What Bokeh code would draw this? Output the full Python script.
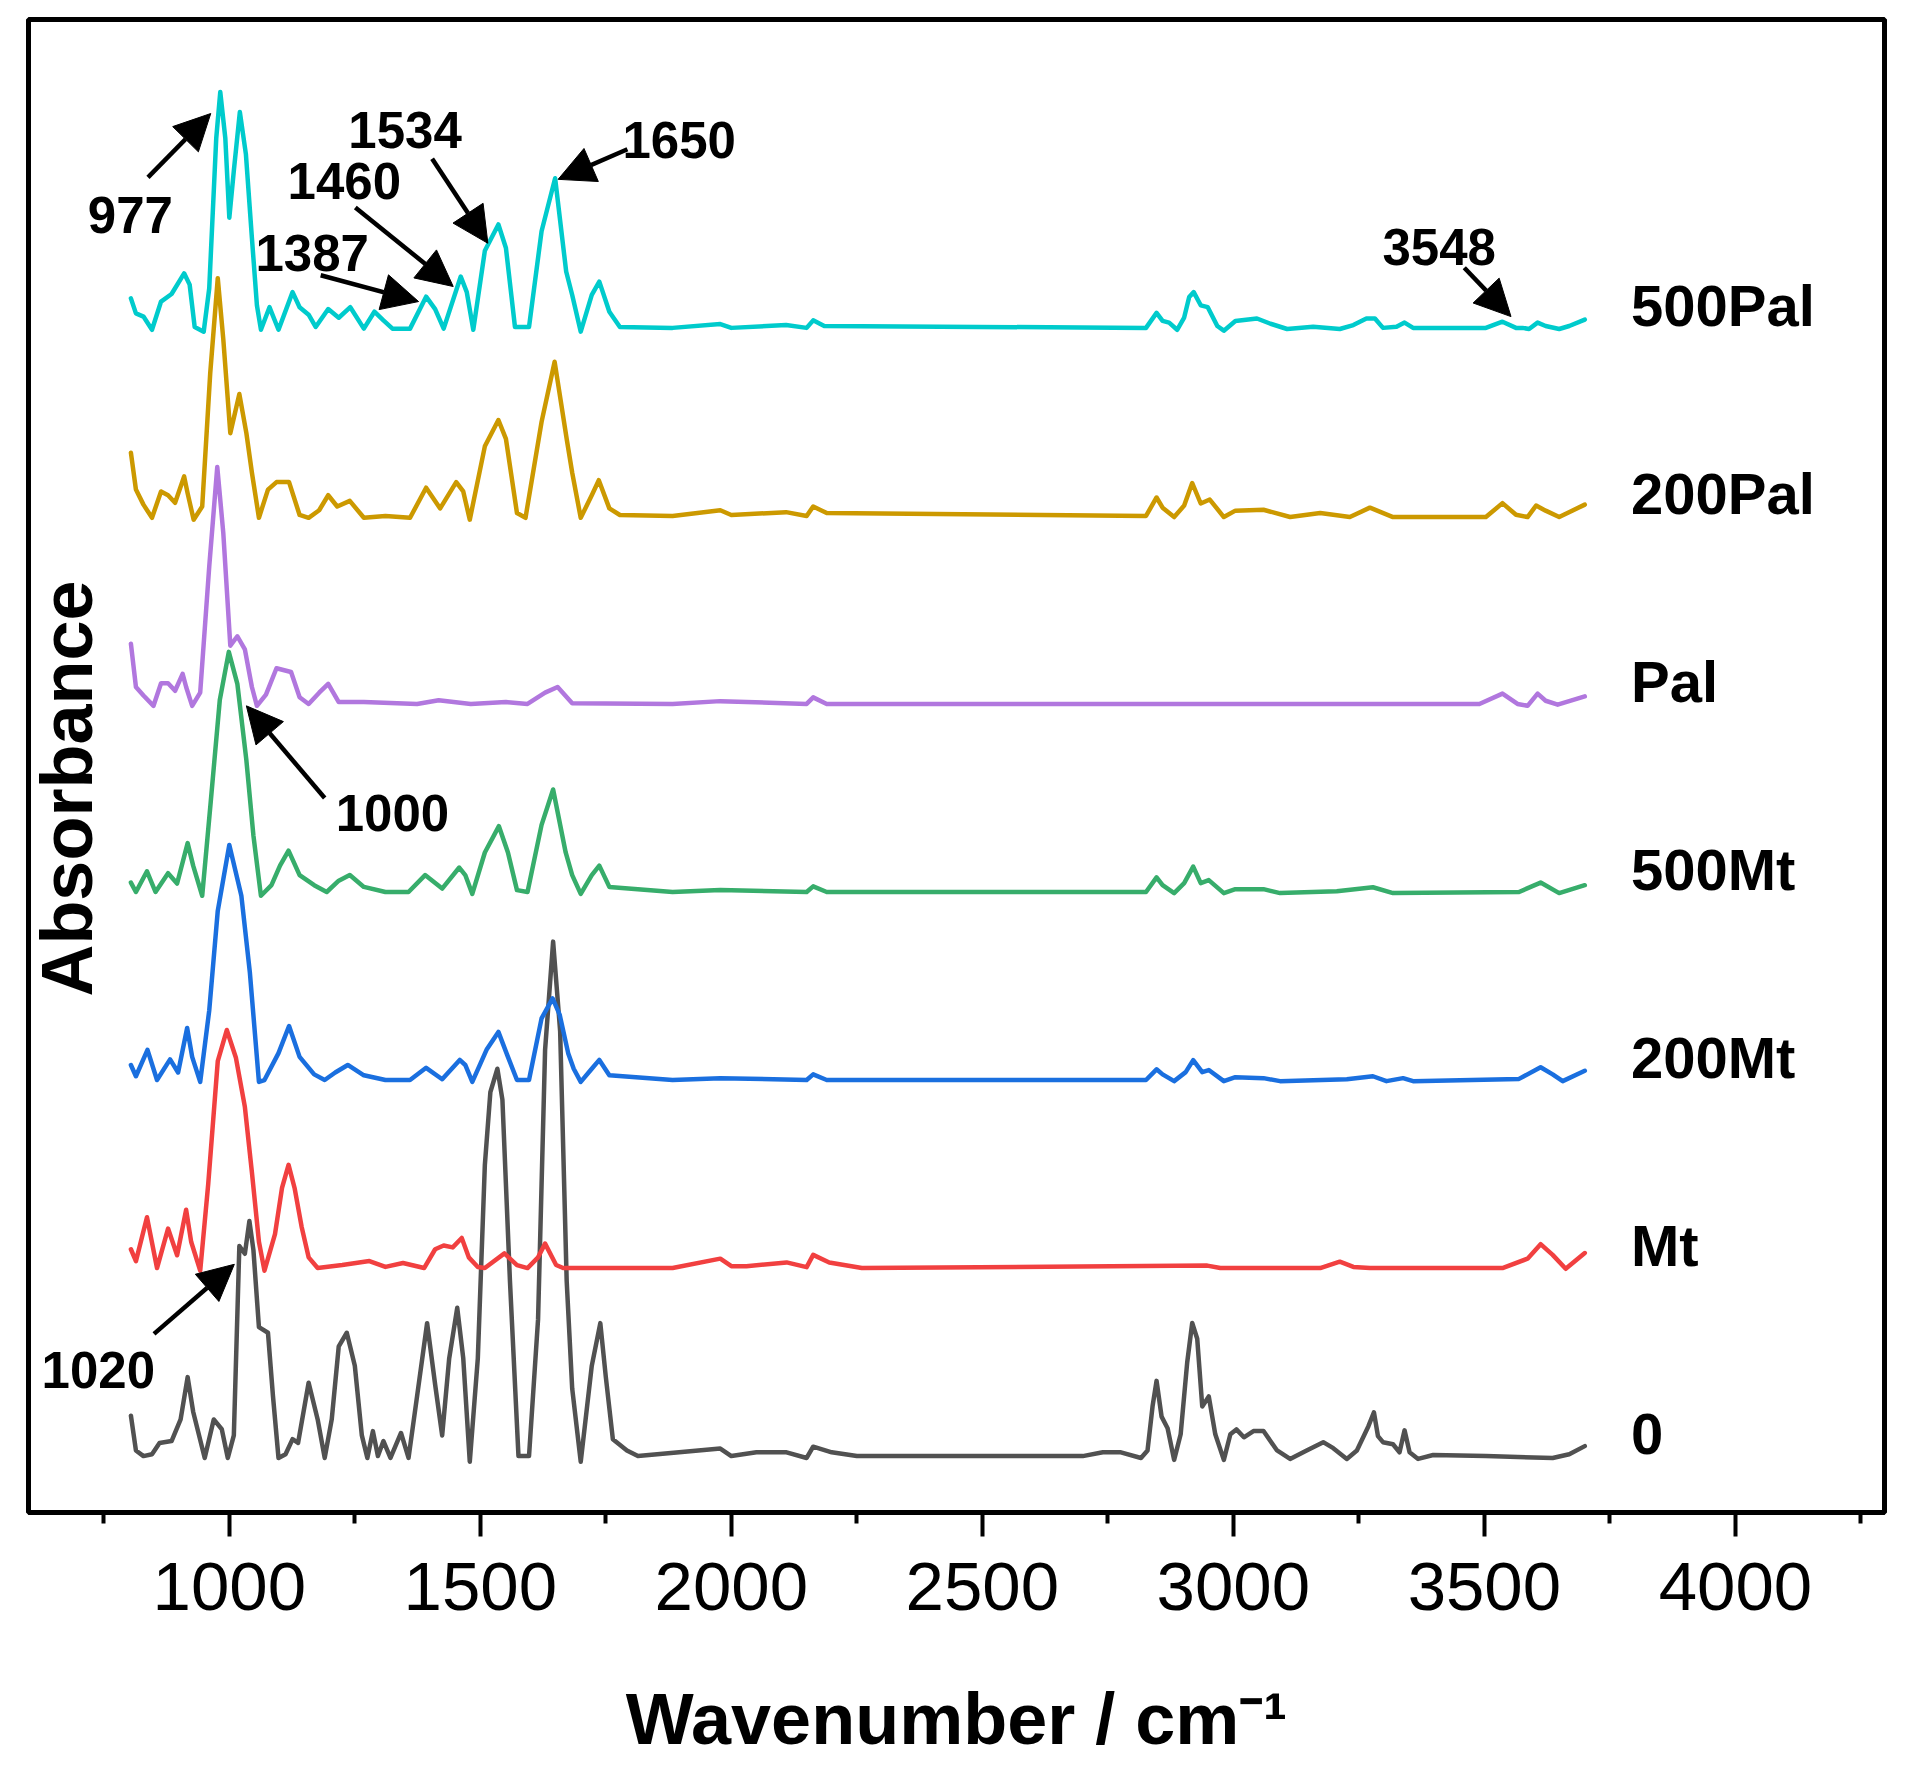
from bokeh.plotting import figure
from bokeh.models import Range1d, FixedTicker, Arrow, NormalHead, Label
from bokeh.core.properties import value
from bokeh.embed import file_html
from bokeh.resources import INLINE
import math

# ---------------- data ----------------
SERIES = ["0", "Mt", "200Mt", "500Mt", "Pal", "200Pal", "500Pal"]
COLORS = ["#515151", "#F14040", "#1A6FDF", "#37AD6B", "#B177DE", "#CC9900", "#00CBCC"]
OFFSETS = [0, 1, 2, 3, 4, 5, 6]

wn_0 = [804, 814, 829, 846, 861, 885, 903, 917, 928, 951, 969, 985, 997, 1009, 1020, 1031, 1040, 1048,
        1059, 1077, 1087, 1098, 1112, 1126, 1137, 1158, 1176, 1190, 1204, 1218, 1234, 1250, 1264, 1275,
        1286, 1296, 1307, 1321, 1342, 1357, 1374, 1394, 1410, 1424, 1438, 1454, 1466, 1479, 1495, 1509,
        1520, 1534, 1544, 1559, 1576, 1597, 1615, 1629, 1645, 1659, 1672, 1683, 1700, 1722, 1739, 1750,
        1764, 1792, 1814, 1978, 2000, 2050, 2110, 2150, 2163, 2200, 2250, 2700, 2740, 2776, 2816, 2829,
        2839, 2847, 2857, 2869, 2882, 2895, 2908, 2918, 2928, 2938, 2951, 2964, 2981, 2994, 3006, 3021,
        3040, 3060, 3087, 3113, 3146, 3179, 3199, 3226, 3246, 3269, 3280, 3288, 3298, 3318, 3331, 3341,
        3351, 3368, 3398, 3503, 3636, 3669, 3700]
ab_0 = [0.215, 0.03, 0.0, 0.01, 0.07, 0.08, 0.195, 0.42, 0.236, -0.01, 0.195, 0.143, -0.01, 0.11, 1.117,
        1.076, 1.25, 1.096, 0.686, 0.656, 0.318, -0.01, 0.01, 0.09, 0.07, 0.39, 0.195, -0.01, 0.195, 0.584,
        0.656, 0.48, 0.11, -0.01, 0.133, 0.0, 0.08, -0.01, 0.123, -0.01, 0.318, 0.707, 0.38, 0.11, 0.52,
        0.789, 0.52, -0.03, 0.52, 1.547, 1.936, 2.06, 1.895, 0.932, 0.0, 0.0, 0.727, 2.16, 2.736, 2.26,
        0.932, 0.359, -0.03, 0.48, 0.707, 0.42, 0.09, 0.03, 0.0, 0.04, 0.0, 0.02, 0.02, -0.01, 0.05, 0.02,
        0.0, 0.0, 0.02, 0.02, -0.01, 0.03, 0.264, 0.40, 0.21, 0.148, -0.02, 0.116, 0.497, 0.708, 0.624,
        0.264, 0.317, 0.116, -0.02, 0.116, 0.142, 0.10, 0.133, 0.133, 0.03, -0.015, 0.03, 0.074, 0.042,
        -0.015, 0.03, 0.159, 0.233, 0.106, 0.074, 0.063, 0.02, 0.137, 0.02, -0.015, 0.006, 0.0, -0.01,
        0.01, 0.053]

wn_mt = [804, 814, 836, 856, 878, 896, 914, 924, 942, 958, 977, 995, 1013, 1031, 1045, 1059, 1070, 1091,
         1105, 1118, 1130, 1144, 1158, 1176, 1225, 1279, 1311, 1346, 1388, 1410, 1427, 1445, 1463, 1477,
         1495, 1509, 1548, 1573, 1594, 1615, 1629, 1651, 1665, 1883, 1978, 2000, 2030, 2110, 2150, 2163,
         2195, 2260, 2948, 2974, 3173, 3212, 3239, 3272, 3536, 3586, 3612, 3636, 3662, 3700]
ab_mt = [0.1, 0.037, 0.27, 0.0, 0.21, 0.068, 0.31, 0.14, -0.014, 0.447, 1.10, 1.266, 1.12, 0.857, 0.51,
         0.14, -0.014, 0.18, 0.426, 0.549, 0.426, 0.22, 0.057, 0.0, 0.016, 0.037, 0.006, 0.027, 0.0, 0.1,
         0.12, 0.11, 0.16, 0.057, 0.006, 0.0, 0.078, 0.016, 0.0, 0.057, 0.13, 0.016, 0.0, 0.0, 0.05, 0.01,
         0.01, 0.03, 0.005, 0.07, 0.03, 0.0, 0.013, 0.0, 0.0, 0.034, 0.006, 0.0, 0.0, 0.05, 0.127, 0.07,
         -0.004, 0.08]

wn_200mt = [804, 814, 837, 856, 882, 898, 916, 926, 942, 960, 977, 1000, 1024, 1041, 1059, 1070, 1098,
            1119, 1140, 1169, 1190, 1211, 1236, 1268, 1311, 1360, 1392, 1424, 1459, 1470, 1484, 1513,
            1536, 1555, 1573, 1597, 1622, 1644, 1658, 1675, 1686, 1700, 1722, 1737, 1757, 1883, 1978,
            2150, 2163, 2190, 2826, 2847, 2859, 2882, 2905, 2920, 2938, 2951, 2981, 3004, 3060, 3093,
            3226, 3278, 3305, 3338, 3358, 3569, 3612, 3636, 3656, 3700]
ab_200mt = [0.08, 0.02, 0.16, 0.0, 0.11, 0.04, 0.277, 0.123, -0.01, 0.37, 0.9, 1.25, 0.98, 0.57, -0.01,
            0.0, 0.143, 0.287, 0.123, 0.03, 0.0, 0.04, 0.08, 0.025, 0.0, 0.0, 0.065, 0.004, 0.107, 0.08,
            -0.01, 0.164, 0.256, 0.123, 0.0, 0.0, 0.328, 0.434, 0.348, 0.143, 0.06, -0.01, 0.06, 0.107,
            0.025, 0.0, 0.01, 0.0, 0.03, 0.0, 0.0, 0.057, 0.03, -0.006, 0.042, 0.106, 0.042, 0.053,
            -0.006, 0.015, 0.01, -0.006, 0.004, 0.02, -0.006, 0.01, -0.006, 0.006, 0.068, 0.03, -0.006,
            0.049]

wn_500mt = [804, 814, 836, 853, 878, 896, 917, 928, 946, 963, 981, 999, 1016, 1034, 1048, 1063, 1084,
            1101, 1118, 1140, 1169, 1194, 1218, 1240, 1268, 1311, 1357, 1390, 1424, 1458, 1470, 1484,
            1509, 1537, 1555, 1573, 1594, 1622, 1645, 1670, 1683, 1700, 1722, 1737, 1757, 1883, 1978,
            2150, 2163, 2190, 2826, 2847, 2859, 2882, 2902, 2920, 2935, 2951, 2981, 3004, 3060, 3093,
            3206, 3278, 3318, 3569, 3612, 3649, 3700]
ab_500mt = [0.05, 0.0, 0.11, 0.0, 0.1, 0.045, 0.26, 0.14, -0.02, 0.48, 1.02, 1.277, 1.107, 0.70, 0.30,
            -0.02, 0.036, 0.14, 0.22, 0.09, 0.036, 0.0, 0.06, 0.09, 0.027, 0.0, 0.0, 0.09, 0.018, 0.13,
            0.09, -0.01, 0.21, 0.35, 0.21, 0.01, 0.0, 0.357, 0.545, 0.21, 0.09, -0.01, 0.09, 0.14, 0.027,
            0.0, 0.01, 0.0, 0.03, 0.0, 0.0, 0.078, 0.036, -0.006, 0.047, 0.135, 0.047, 0.063, -0.006,
            0.015, 0.015, -0.006, 0.004, 0.025, -0.006, 0.0, 0.05, -0.006, 0.036]

wn_pal = [804, 814, 829, 849, 864, 878, 892, 907, 914, 926, 942, 960, 976, 988, 1002, 1016, 1031, 1045,
          1055, 1073, 1094, 1123, 1140, 1158, 1179, 1197, 1218, 1268, 1374, 1417, 1481, 1551, 1594, 1629,
          1654, 1683, 1883, 1978, 2150, 2163, 2190, 3490, 3536, 3566, 3586, 3606, 3622, 3646, 3700]
ab_pal = [0.32, 0.09, 0.045, -0.01, 0.11, 0.11, 0.07, 0.16, 0.09, -0.01, 0.06, 0.73, 1.26, 0.91, 0.31,
          0.36, 0.29, 0.09, -0.01, 0.05, 0.19, 0.17, 0.036, 0.0, 0.06, 0.107, 0.01, 0.01, 0.0, 0.02, 0.0,
          0.01, 0.0, 0.06, 0.09, 0.004, 0.0, 0.015, 0.0, 0.035, 0.0, 0.0, 0.055, 0.0, -0.01, 0.055, 0.017,
          -0.004, 0.04]

wn_200pal = [804, 814, 829, 846, 864, 878, 892, 910, 917, 929, 946, 962, 977, 988, 1002, 1020, 1034,
             1045, 1059, 1077, 1094, 1119, 1140, 1158, 1179, 1197, 1215, 1240, 1268, 1311, 1360, 1392,
             1420, 1452, 1466, 1479, 1509, 1536, 1551, 1573, 1590, 1622, 1648, 1672, 1683, 1700, 1722,
             1736, 1757, 1778, 1883, 1978, 2000, 2109, 2150, 2163, 2190, 2826, 2847, 2859, 2882, 2902,
             2918, 2935, 2953, 2981, 3004, 3060, 3113, 3173, 3232, 3272, 3318, 3503, 3536, 3563, 3586,
             3603, 3622, 3649, 3700]
ab_200pal = [0.336, 0.14, 0.06, -0.01, 0.13, 0.11, 0.07, 0.21, 0.12, -0.02, 0.05, 0.76, 1.264, 0.94,
             0.44, 0.648, 0.44, 0.23, -0.01, 0.14, 0.18, 0.18, 0.005, -0.01, 0.03, 0.11, 0.05, 0.08,
             -0.01, 0.0, -0.01, 0.15, 0.04, 0.18, 0.13, -0.02, 0.37, 0.51, 0.41, 0.015, -0.01, 0.50,
             0.82, 0.41, 0.23, -0.01, 0.11, 0.19, 0.04, 0.005, 0.0, 0.03, 0.005, 0.02, 0.0, 0.05, 0.015,
             0.0, 0.098, 0.044, -0.006, 0.055, 0.175, 0.066, 0.087, -0.006, 0.028, 0.033, -0.006, 0.015,
             -0.006, 0.044, -0.006, -0.006, 0.068, 0.006, -0.006, 0.055, 0.028, -0.006, 0.06]

wn_500pal = [804, 814, 829, 846, 864, 885, 910, 921, 931, 949, 960, 974, 982, 992, 1000, 1009, 1021,
             1033, 1045, 1055, 1063, 1080, 1098, 1126, 1140, 1158, 1172, 1197, 1218, 1241, 1268, 1289,
             1307, 1325, 1360, 1392, 1410, 1427, 1461, 1473, 1486, 1509, 1536, 1551, 1569, 1597, 1622,
             1649, 1671, 1683, 1700, 1722, 1737, 1757, 1778, 1883, 1978, 2000, 2109, 2150, 2163, 2185,
             2826, 2847, 2859, 2872, 2888, 2902, 2912, 2921, 2935, 2949, 2968, 2981, 3004, 3047, 3074,
             3107, 3159, 3212, 3239, 3265, 3282, 3298, 3325, 3341, 3358, 3437, 3503, 3536, 3563, 3576,
             3589, 3606, 3622, 3649, 3669, 3700]
ab_500pal = [0.157, 0.077, 0.06, -0.01, 0.14, 0.18, 0.29, 0.23, 0.005, -0.02, 0.21, 1.01, 1.255, 1.01,
             0.586, 0.836, 1.148, 0.925, 0.479, 0.12, -0.01, 0.11, -0.01, 0.19, 0.11, 0.07, 0.005, 0.1,
             0.054, 0.11, -0.004, 0.086, 0.04, -0.004, -0.004, 0.166, 0.10, -0.004, 0.273, 0.19, -0.01,
             0.41, 0.55, 0.425, 0.005, 0.005, 0.514, 0.796, 0.30, 0.175, -0.02, 0.175, 0.246, 0.086,
             0.005, 0.0, 0.02, 0.0, 0.015, 0.0, 0.04, 0.01, 0.0, 0.08, 0.037, 0.028, -0.01, 0.055, 0.164,
             0.19, 0.12, 0.11, 0.01, -0.015, 0.037, 0.05, 0.022, -0.006, 0.006, -0.006, 0.015, 0.05,
             0.05, 0.0, 0.006, 0.028, 0.0, 0.0, 0.0, 0.033, 0.0, 0.0, -0.006, 0.028, 0.01, -0.006, 0.01,
             0.044]

WN = [wn_0, wn_mt, wn_200mt, wn_500mt, wn_pal, wn_200pal, wn_500pal]
AB = [ab_0, ab_mt, ab_200mt, ab_500mt, ab_pal, ab_200pal, ab_500pal]

# peak annotations: label, text position, arrow tail, arrow head (wavenumber, stacked absorbance)
ANN_TEXT = ["977", "1387", "1460", "1534", "1650", "3548", "1000", "1020"]
ANN_TX = [803, 1165, 1229, 1350, 1896, 3410, 1325, 739]
ANN_TY = [6.60, 6.40, 6.78, 7.05, 7.00, 6.43, 3.42, 0.46]
ARR_X0 = [838, 1182, 1251, 1404, 1793, 3460, 1190, 850]
ARR_Y0 = [6.80, 6.28, 6.64, 6.90, 6.95, 6.32, 3.50, 0.65]
ARR_X1 = [963, 1377, 1446, 1515, 1655, 3553, 1034, 1010]
ARR_Y1 = [7.14, 6.14, 6.22, 6.45, 6.79, 6.06, 3.99, 1.02]

X_TICKS = [1000, 1500, 2000, 2500, 3000, 3500, 4000]
X_MINOR = [750, 1250, 1750, 2250, 2750, 3250, 3750, 4250]

FONT = "Liberation Sans"

# ---------------- figure ----------------
p = figure(width=1912, height=1768, output_backend="svg", toolbar_location=None,
           x_range=Range1d(600, 4297), y_range=Range1d(-0.30, 7.64),
           y_axis_location=None, min_border_left=28, min_border_right=28,
           min_border_top=19, min_border_bottom=256)
p.xgrid.visible = False
p.ygrid.visible = False
p.outline_line_color = "black"
p.outline_line_width = 5
p.outline_line_alpha = 1.0
p.background_fill_color = "white"
p.border_fill_color = "white"

for wn, ab, off, col in zip(WN, AB, OFFSETS, COLORS):
    p.line(wn, [a + off for a in ab], line_color=col, line_width=4.5, line_join="round",
           line_cap="round")

# series labels on the right
p.text(x=[3792] * len(SERIES), y=[o + 0.12 for o in OFFSETS], text=SERIES,
       text_font=value(FONT), text_font_style="bold", text_font_size="58px",
       text_align="left", text_baseline="middle", text_color="black")

# peak annotations
p.text(x=ANN_TX, y=ANN_TY, text=ANN_TEXT, text_font=value(FONT), text_font_style="bold",
       text_font_size="51px", text_align="center", text_baseline="middle", text_color="black")
for x0, y0, x1, y1 in zip(ARR_X0, ARR_Y0, ARR_X1, ARR_Y1):
    p.add_layout(Arrow(end=NormalHead(size=36, fill_color="black", line_color="black"),
                       x_start=x0, y_start=y0, x_end=x1, y_end=y1,
                       line_width=4.5, line_color="black"))

# y label drawn inside the frame, as in the reference
p.add_layout(Label(x=677, y=3.55, text="Absorbance", angle=math.pi / 2,
                   text_font=FONT, text_font_style="bold", text_font_size="72px",
                   text_align="center", text_baseline="middle", text_color="black"))

# x axis
ax = p.xaxis[0]
ax.ticker = FixedTicker(ticks=X_TICKS, minor_ticks=X_MINOR)
ax.axis_line_width = 5
ax.axis_line_color = "black"
ax.major_tick_in = 0
ax.major_tick_out = 24
ax.minor_tick_in = 0
ax.minor_tick_out = 11
ax.major_tick_line_width = 4
ax.minor_tick_line_width = 4
ax.major_tick_line_color = "black"
ax.minor_tick_line_color = "black"
ax.major_label_text_font = FONT
ax.major_label_text_font_size = "69px"
ax.major_label_text_color = "black"
ax.major_label_standoff = 26
ax.axis_label = "Wavenumber / cm\u207b\u00b9"
ax.axis_label_text_font = FONT
ax.axis_label_text_font_style = "bold"
ax.axis_label_text_font_size = "72px"
ax.axis_label_text_color = "black"
ax.axis_label_standoff = 66

open("out.html", "w").write(file_html(p, INLINE))
